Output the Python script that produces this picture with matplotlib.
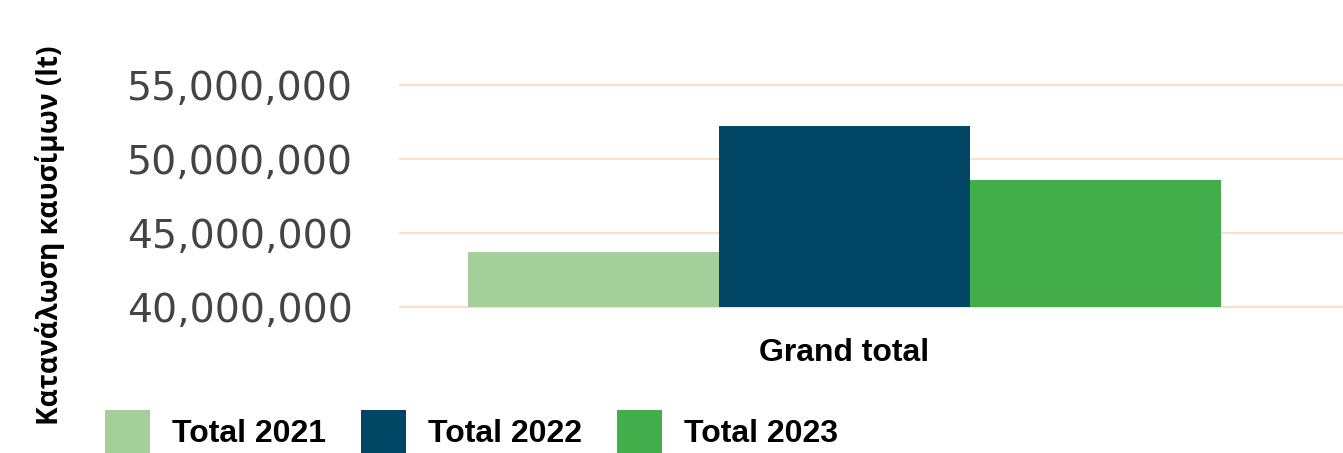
import matplotlib
matplotlib.use("Agg")
import matplotlib.pyplot as plt
from matplotlib.patches import Patch
from matplotlib.ticker import FuncFormatter

categories = ["Grand total"]
series = ["Total 2021", "Total 2022", "Total 2023"]
values = [43_700_000, 52_200_000, 48_600_000]
colors = ["#A5CF9A", "#024666", "#43AD4B"]
yticks = [40_000_000, 45_000_000, 50_000_000, 55_000_000]
ylabel = "Κατανάλωση καυσίμων (lt)"

W, H = 1343, 453
fig = plt.figure(figsize=(W / 100, H / 100), dpi=100)
ax = fig.add_axes([400 / W, 1 - 307 / H, 943 / W, (307 - 85) / H])

bw = 1.0
offsets = [-bw, 0, bw]
for s, v, c, o in zip(series, values, colors, offsets):
    ax.bar(0 + o, v - yticks[0], bottom=yticks[0], width=bw, color=c, label=s, zorder=3)

ax.set_ylim(yticks[0], yticks[-1])
ax.set_xlim((400 - 844) / 251, (1343 - 844) / 251)
ax.set_yticks(yticks)
ax.yaxis.set_major_formatter(FuncFormatter(lambda v, p: f"{v:,.0f}"))
ax.tick_params(axis="y", length=0, pad=34, labelsize=28.4, labelcolor="#444444")
for lab in ax.get_yticklabels():
    lab.set_fontfamily("DejaVu Sans")
ax.set_xticks([0])
ax.set_xticklabels(categories, fontsize=23, fontweight="bold", family="Liberation Sans")
ax.tick_params(axis="x", length=0, pad=22)
ax.grid(axis="y", color="#FCE1C8", linewidth=1.5, zorder=0)
for gl in ax.get_ygridlines():
    gl.set_clip_on(False)
for sp in ax.spines.values():
    sp.set_visible(False)

fig.text(50 / W, 1 - 235 / H, ylabel, rotation=90, ha="center", va="center",
         fontsize=20.2, fontweight="bold", family="Open Sans")

handles = [Patch(facecolor=c, label=s) for s, c in zip(series, colors)]
fig.legend(handles=handles, loc="lower left", bbox_to_anchor=(105 / W, 0), ncol=3,
           frameon=False, borderpad=0, borderaxespad=0,
           prop={"family": "Liberation Sans", "weight": "bold", "size": 23},
           handlelength=1.4, handleheight=1.7, handletextpad=0.69, columnspacing=1.1)

fig.savefig("out.png", dpi=100)
